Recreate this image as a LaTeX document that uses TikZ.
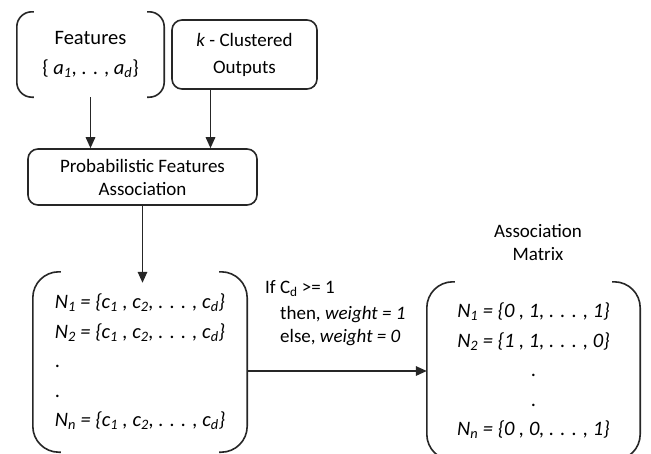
\documentclass[tikz,border=0pt]{standalone}
\usepackage{fontspec}
\setmainfont{Carlito}
\usetikzlibrary{arrows.meta}
\newcommand{\bracketsof}[2]{%
  \draw[ink, rounded corners=#2] ([xshift=#2+2pt]#1.north west) -| (#1.south west) -- ([xshift=#2+2pt]#1.south west);
  \draw[ink, rounded corners=#2] ([xshift=-#2-2pt]#1.north east) -| (#1.south east) -- ([xshift=-#2-2pt]#1.south east);}
\begin{document}
\begin{tikzpicture}[x=1pt, y=-1pt, ink/.style={line width=1.6pt, draw=black!85}, box/.style={ink, rounded corners=10pt, align=center, inner sep=0pt}, bracketed/.style={align=center, inner sep=0pt}, vec/.style={line width=1.6pt, black!85, -{Triangle[length=11pt, width=9.5pt]}}, list/.style={font=\fontsize{20.5}{29.5}\selectfont}, note/.style={align=left, inner sep=0pt}, every node/.style={font=\fontsize{19}{23}\selectfont}]
\useasboundingbox (0,0) rectangle (651,453);
\node[bracketed, font=\fontsize{20.5}{24}\selectfont, minimum width=147pt, minimum height=85pt] (feat) at (90.5,54.5) {Features\\[6pt]\{ \textit{a}\textsubscript{\textit{1}}, . . , \textit{a}\textsubscript{\textit{d}}\}};
\node[box, minimum width=145pt, minimum height=69pt] (kout) at (244.5,54.5) {\textit{k} - Clustered\\[4pt]Outputs};
\node[box, minimum width=229pt, minimum height=56pt] (prob) at (142.5,177) {Probabilistic Features\\Association};
\node[bracketed, list, align=left, minimum width=214pt, minimum height=180pt] (cvec) at (140,362) {\textit{N\textsubscript{1} = \{c\textsubscript{1} , c\textsubscript{2}, . . . , c\textsubscript{d}\}}\\\textit{N\textsubscript{2} = \{c\textsubscript{1} , c\textsubscript{2}, . . . , c\textsubscript{d}\}}\\.\\.\\\textit{N\textsubscript{n} = \{c\textsubscript{1} , c\textsubscript{2}, . . . , c\textsubscript{d}\}}};
\node[bracketed, list, minimum width=213pt, minimum height=178pt] (amat) at (533.5,371) {\textit{N\textsubscript{1} = \{0 , 1, . . . , 1\}}\\\textit{N\textsubscript{2} = \{1 , 1, . . . , 0\}}\\.\\.\\\textit{N\textsubscript{n} = \{0 , 0, . . . , 1\}}};
\node[align=center] (amlab) at (538,242) {Association\\Matrix};
\node[note, anchor=west] (rule) at (265,313) {If C\textsubscript{d} >= 1\\[3pt] \hspace{15pt}then, \textit{weight = 1}\\ \hspace{15pt}else, \textit{weight = 0}};
\bracketsof{feat}{15pt}
\bracketsof{cvec}{26pt}
\bracketsof{amat}{26pt}
\coordinate (cin) at ([yshift=-11pt]cvec.north);
\draw[vec] (feat.south) -- (feat.south |- prob.north);
\draw[vec] ([xshift=-34pt]kout.south) -- ([xshift=-34pt]kout.south |- prob.north);
\draw[vec] (prob.south) -- (prob.south |- cin);
\draw[vec] (cvec.east |- amat.west) -- (amat.west);
\end{tikzpicture}
\end{document}
